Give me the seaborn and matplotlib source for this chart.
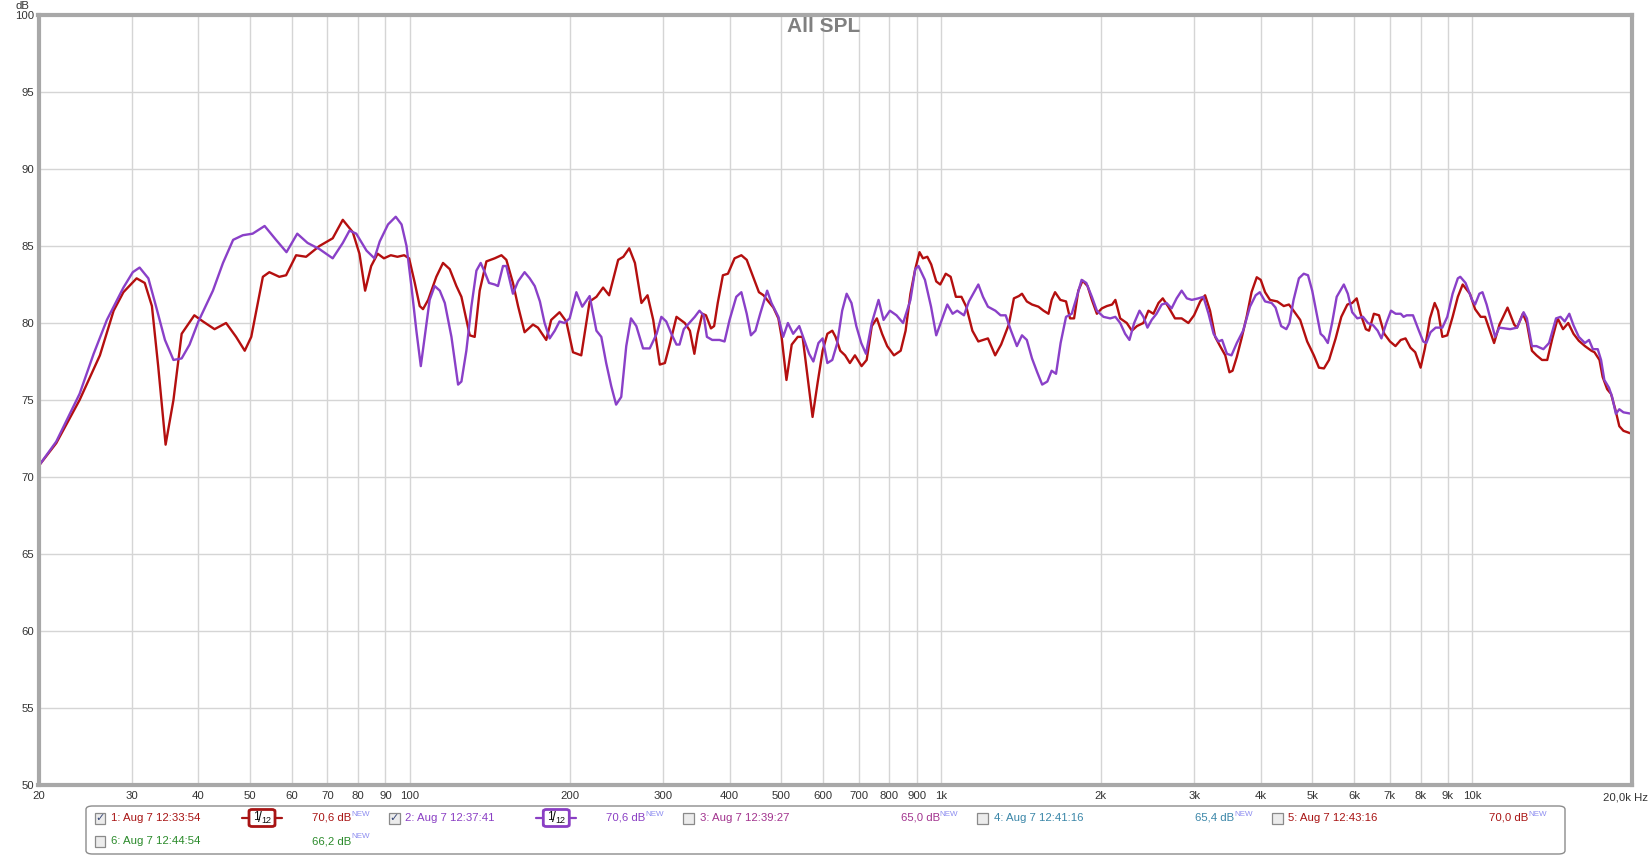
import numpy as np
import pandas as pd
import matplotlib
matplotlib.use("Agg")
import matplotlib.pyplot as plt
import seaborn as sns
from matplotlib.patches import FancyBboxPatch, Rectangle
from matplotlib.lines import Line2D
from matplotlib import font_manager

# ---------------- data ----------------
freq_1 = [20, 21.6, 23.9, 26.1, 27.7, 28.9, 30.6, 31.7, 32.7, 33.6, 34.7, 35.9, 37.2, 39.3, 40.8,
          42.9, 45.1, 47.1, 48.9, 50.3, 52.9, 54.4, 56.8, 58.5, 61.1, 63.8, 67.6, 71.6, 74.8, 78.1,
          80.4, 82.4, 84.6, 87.0, 89.4, 92.1, 94.8, 97.6, 99.7, 102.2, 104.4, 105.9, 108.3, 112.2,
          115.5, 118.9, 122.4, 125.1, 129.7, 132.5, 135.4, 139.4, 144.5, 148.8, 152.0, 156.4, 159.9,
          164.5, 170.6, 174.3, 180.7, 184.6, 191.4, 197.1, 202.9, 210.3, 218.1, 224.6, 231.2, 237.3,
          246.8, 252.4, 258.9, 265.4, 273.0, 280.3, 287.3, 295.6, 302.2, 308.6, 317.8, 329.4, 336.8,
          343.4, 348.3, 355.5, 361.1, 369.0, 374.1, 380.0, 388.6, 397.2, 408.8, 421.0, 430.9, 440.8,
          454.3, 463.5, 473.3, 483.7, 494.3, 501.2, 511.9, 523.7, 537.6, 549.0, 561.0, 573.2, 585.8,
          598.8, 611.2, 624.4, 633.2, 646.3, 660.0, 673.9, 688.8, 708.9, 724.7, 741.0, 757.5, 774.8,
          792.2, 815.7, 839.9, 858.0, 876.2, 894.6, 911.3, 925.0, 942.8, 958.8, 979.8, 996.9, 1021,
          1043, 1067, 1093, 1116, 1146, 1176, 1200, 1226, 1265, 1298, 1318, 1342, 1372, 1402, 1421,
          1451, 1484, 1526, 1560, 1594, 1616, 1640, 1678, 1720, 1750, 1781, 1814, 1848, 1888, 1924,
          1966, 2009, 2053, 2100, 2130, 2175, 2238, 2288, 2339, 2405, 2458, 2512, 2568, 2616, 2679,
          2758, 2839, 2923, 2996, 3077, 3143, 3211, 3283, 3354, 3430, 3493, 3540, 3606, 3681, 3763,
          3844, 3932, 4000, 4076, 4164, 4297, 4420, 4520, 4612, 4746, 4892, 5036, 5148, 5261, 5379,
          5535, 5672, 5823, 5946, 6063, 6166, 6309, 6398, 6532, 6679, 6833, 7005, 7173, 7340, 7493,
          7654, 7815, 8000, 8150, 8330, 8502, 8627, 8790, 8980, 9190, 9400, 9600, 9906, 10130, 10380,
          10580, 10800, 11000, 11260, 11660, 12000, 12150, 12460, 12680, 12960, 13220, 13540, 13850,
          14160, 14490, 14830, 15170, 15520, 15880, 16310, 16770, 17000, 17370, 17610, 17960, 18260,
          18600, 18930, 19270, 20000]
spl_1 = [70.7, 72.2, 75.0, 77.9, 80.8, 82.0, 82.9, 82.6, 81.1, 77.2, 72.1, 75.0, 79.3, 80.5, 80.1,
         79.6, 80.0, 79.1, 78.2, 79.1, 83.0, 83.3, 83.0, 83.1, 84.4, 84.3, 85.0, 85.5, 86.7, 85.9,
         84.5, 82.1, 83.7, 84.5, 84.2, 84.4, 84.3, 84.4, 84.2, 82.6, 81.1, 80.9, 81.5, 83.0,
         83.9, 83.5, 82.4, 81.7, 79.2, 79.1, 82.1, 84.0, 84.2, 84.4, 84.1, 82.6, 81.1,
         79.4, 79.9, 79.7, 78.9, 80.2, 80.7, 80.1, 78.1, 77.9, 81.4, 81.7, 82.3, 81.8,
         84.1, 84.3, 84.85, 83.9, 81.3, 81.8, 80.2, 77.3, 77.4, 78.6, 80.4, 80.0, 79.5,
         78.0, 79.3, 80.6, 80.5, 79.65, 79.8, 81.3, 83.1, 83.2, 84.2, 84.4, 84.1, 83.2,
         82.0, 81.8, 81.4, 81.0, 80.3, 79.1, 76.3, 78.6, 79.1, 79.1, 76.5, 73.9, 76.1,
         78.2, 79.3, 79.5, 79.1, 78.2, 77.9, 77.4, 77.9, 77.2, 77.6, 79.8, 80.3, 79.3,
         78.5, 77.9, 78.2, 79.5, 81.9, 83.5, 84.6, 84.2, 84.3, 83.8, 82.7, 82.5, 83.2,
         83.0, 81.7, 81.7, 81.06, 79.5, 78.8, 78.9, 79.0, 77.9, 78.6, 79.2, 79.9, 81.6, 81.75, 81.9,
         81.4, 81.2, 81.06, 80.8, 80.6, 81.5, 82.0, 81.5, 81.4, 80.3, 80.3, 82.1, 82.75, 82.4, 81.5,
         80.6, 80.95, 81.1, 81.2, 81.5, 80.3, 80.0, 79.5, 79.8, 80.0, 80.8, 80.6, 81.3, 81.6, 81.06,
         80.3, 80.3, 80.0, 80.5, 81.4, 81.8, 80.8, 79.1, 78.5, 77.9, 76.8, 76.9, 77.8, 79.0, 80.4,
         82.0, 82.97, 82.8, 82.0, 81.5, 81.4, 81.1, 81.2, 80.8, 80.2, 78.8, 77.9, 77.1, 77.05, 77.6,
         79.0, 80.4, 81.2, 81.3, 81.6, 80.6, 79.6, 79.5, 80.6, 80.5, 79.3, 78.8, 78.5, 78.9, 79.0,
         78.4, 78.1, 77.1, 78.35, 80.3, 81.3, 80.8, 79.1, 79.2, 80.4, 81.7, 82.5, 81.9, 80.9, 80.4,
         80.4, 79.5, 78.7, 79.9, 81.0, 79.9, 79.7, 80.6, 80.0, 78.2, 77.9, 77.6, 77.6,
         79.0, 80.3, 79.6, 80.0, 79.3, 78.85, 78.5, 78.2, 78.1, 77.6, 76.5, 75.7, 75.4,
         74.4, 73.3, 73.0, 72.8]

freq_2 = [20, 21.6, 23.9, 25.4, 26.9, 28.9, 30.1, 31.0, 32.2, 33.3, 34.6, 35.9, 37.2, 38.5, 40.0,
          42.6, 44.5, 46.5, 48.5, 50.6, 53.3, 56.0, 58.6, 61.4, 64.2, 67.6, 71.6, 74.8, 77.0, 79.3,
          82.9, 85.8, 87.8, 91.0, 94.1, 96.5, 98.6, 100.7, 102.9, 104.9, 106.7, 109.0, 111.4, 113.9,
          116.4, 119.8, 123.3, 125.1, 127.8, 130.6, 133.5, 136.0, 138.4, 141.0, 144.5, 146.6, 149.8,
          152.0, 156.4, 159.9, 164.5, 168.2, 171.9, 175.8, 179.4, 183.4, 187.5, 191.4, 195.5, 200,
          205.9, 211.2, 218.1, 224.6, 229.4, 234.3, 239.5, 244.6, 250.1, 255.6, 260.9, 267.0, 274.9,
          283.0, 291.6, 297.6, 304.0, 310.8, 317.8, 322, 328, 336, 344, 351, 357.5, 362.6, 371.0,
          382.9, 391.4, 400, 411.8, 421.0, 430.9, 438.8, 447.5, 456.8, 470.8, 479.7, 494.3, 504.6,
          515.1, 527.0, 541.1, 552.8, 564.7, 575.2, 588.0, 598.8, 611.2, 624.4, 638.0, 651.7, 664.5,
          678.5, 692.9, 707.9, 722.6, 741.0, 763.0, 779.8, 801.6, 824.8, 848.7, 876.2, 894.6, 907.0,
          933.0, 958, 979.8, 1011, 1028, 1052, 1073, 1105, 1129, 1176, 1200, 1226, 1266, 1295, 1324,
          1355, 1390, 1421, 1451, 1484, 1518, 1551, 1586, 1616, 1647, 1680, 1720, 1763, 1802, 1840,
          1878, 1924, 1966, 2023, 2083, 2130, 2175, 2222, 2264, 2311, 2365, 2405, 2448, 2493, 2546,
          2604, 2659, 2718, 2778, 2839, 2904, 2967, 3052, 3120, 3190, 3261, 3330, 3383, 3455, 3524,
          3606, 3706, 3818, 3913, 3984, 4076, 4194, 4265, 4370, 4470, 4530, 4612, 4720, 4820, 4910,
          5000, 5110, 5185, 5260, 5350, 5450, 5560, 5735, 5835, 5946, 6080, 6232, 6366, 6513, 6640,
          6750, 6896, 7036, 7180, 7340, 7430, 7530, 7740, 7940, 8090, 8200, 8350, 8540, 8790, 8980,
          9190, 9400, 9500, 9720, 10000, 10130, 10320, 10460, 10650, 10840, 11050, 11250, 11800,
          12150, 12500, 12680, 12960, 13220, 13620, 13960, 14390, 14670, 14940, 15240, 15520, 15880,
          16310, 16600, 16880, 17240, 17490, 17740, 18100, 18350, 18650, 18930, 19270, 20000]
spl_2 = [70.7, 72.3, 75.4, 78.0, 80.2, 82.3, 83.3, 83.6, 82.9, 81.06, 78.9, 77.6, 77.7, 78.6, 80.1,
         82.1, 83.9, 85.4, 85.7, 85.8, 86.3, 85.4, 84.6, 85.8, 85.2, 84.8, 84.2, 85.2, 86.0, 85.8,
         84.7, 84.2, 85.3, 86.4, 86.9, 86.4, 85.0, 82.4, 79.5, 77.2, 79.1, 81.5, 82.4, 82.1,
         81.3, 79.1, 76.0, 76.2, 78.2, 81.06, 83.4, 83.9, 83.3, 82.6, 82.5, 82.4, 83.7,
         83.7, 81.9, 82.7, 83.3, 82.9, 82.4, 81.4, 80.0, 79.0, 79.5, 80.1, 80.0, 80.3,
         82.0, 81.06, 81.75, 79.5, 79.1, 77.4, 75.9, 74.7, 75.2, 78.5, 80.3, 79.8, 78.35,
         78.35, 79.3, 80.4, 80.1, 79.3, 78.6, 78.6, 79.6, 80.0, 80.4, 80.8, 80.5, 79.1, 78.9,
         78.9, 78.8, 80.2, 81.7, 82.0, 80.6, 79.2, 79.5, 80.6, 82.1, 81.3, 80.4, 79.1,
         80.0, 79.3, 79.8, 78.9, 78.0, 77.5, 78.7, 79.0, 77.4, 77.6, 78.7, 80.8, 81.9,
         81.3, 79.8, 78.7, 78.0, 80.0, 81.5, 80.2, 80.8, 80.5, 80.0, 81.5, 83.5, 83.7,
         82.8, 81.06, 79.2, 80.5, 81.2, 80.6, 80.8, 80.5, 81.4, 82.5, 81.7, 81.06, 80.8, 80.5, 80.5,
         79.5, 78.5, 79.2, 78.9, 77.7, 76.8, 76.0, 76.2, 76.9, 76.7, 78.7, 80.4, 80.6, 81.7, 82.8,
         82.6, 81.7, 80.8, 80.4, 80.3, 80.4, 80.0, 79.3, 78.9, 80.0, 80.8, 80.4, 79.7, 80.2, 80.6,
         81.2, 81.3, 80.95, 81.6, 82.1, 81.6, 81.5, 81.6, 81.7, 80.6, 79.3, 78.8, 78.9, 78.0, 77.9,
         78.7, 79.5, 81.06, 81.8, 82.0, 81.4, 81.3, 81.0, 79.8, 79.6, 80.0, 81.5, 82.9, 83.2, 83.1,
         82.1, 80.4, 79.3, 79.1, 78.7, 80.0, 81.7, 82.5, 81.9, 80.7, 80.3, 80.4, 80.0, 79.85, 79.5,
         79.0, 80.0, 80.8, 80.6, 80.6, 80.4, 80.5, 80.5, 79.5, 78.8, 78.7, 79.4, 79.7, 79.7, 80.4,
         81.9, 82.9, 83.0, 82.6, 81.5, 81.2, 81.9, 82.0, 81.2, 80.2, 79.1, 79.7, 79.6,
         79.7, 80.7, 80.3, 78.5, 78.5, 78.3, 78.7, 80.3, 80.4, 80.1, 80.6, 79.85, 79.1,
         78.7, 78.9, 78.3, 78.3, 77.6, 76.3, 75.8, 75.2, 74.1, 74.4, 74.2, 74.1]

trace_names = ["1: Aug 7 12:33:54", "2: Aug 7 12:37:41"]

y_ticks = [50, 55, 60, 65, 70, 75, 80, 85, 90, 95, 100]
x_ticks = [20, 30, 40, 50, 60, 70, 80, 90, 100, 200, 300, 400, 500, 600, 700, 800, 900,
           1000, 2000, 3000, 4000, 5000, 6000, 7000, 8000, 9000, 10000]
x_tick_labels = ["20", "30", "40", "50", "60", "70", "80", "90", "100", "200", "300", "400",
                 "500", "600", "700", "800", "900", "1k", "2k", "3k", "4k", "5k", "6k", "7k",
                 "8k", "9k", "10k"]
x_end_label = "20,0k Hz"

legend_names = ["1: Aug 7 12:33:54", "2: Aug 7 12:37:41", "3: Aug 7 12:39:27",
                "4: Aug 7 12:41:16", "5: Aug 7 12:43:16", "6: Aug 7 12:44:54"]
legend_levels = ["70,6 dB", "70,6 dB", "65,0 dB", "65,4 dB", "70,0 dB", "66,2 dB"]
legend_checked = [True, True, False, False, False, False]
legend_colors = ["#a81414", "#8a3fc4", "#a2338e", "#3a86a8", "#a81414", "#2a8a2a"]
curve_colors = ["#b40f0f", "#8a40c8"]

# ---------------- style ----------------
sns.set_theme(style="white")
names = {f.name for f in font_manager.fontManager.ttflist}
small_font = "Liberation Sans Narrow" if "Liberation Sans Narrow" in names else "Liberation Sans"
narrow = small_font == "Liberation Sans Narrow"
plt.rcParams["font.family"] = [small_font, "DejaVu Sans"]
txt_size = 9.0 if narrow else 8.2

W, H = 1650, 856
fig = plt.figure(figsize=(W / 100, H / 100), dpi=100)
fig.patch.set_facecolor("white")

def fx(px):
    return px / W

def fy(py):
    return 1 - py / H

left, right, top, bottom = 38.5, 1632, 15, 785
ax = fig.add_axes([fx(left), fy(bottom), fx(right - left), (bottom - top) / H])

df = pd.concat([
    pd.DataFrame({"freq": freq_1, "spl": spl_1, "trace": trace_names[0]}),
    pd.DataFrame({"freq": freq_2, "spl": spl_2, "trace": trace_names[1]}),
], ignore_index=True)

sns.lineplot(data=df, x="freq", y="spl", hue="trace", hue_order=trace_names,
             palette=dict(zip(trace_names, curve_colors)), estimator=None, sort=False,
             linewidth=1.7, legend=False, ax=ax)
for ln in ax.get_lines():
    ln.set_solid_joinstyle("round")
    ln.set_solid_capstyle("round")

ax.set_xscale("log")
ax.set_xlim(20, 20000)
ax.set_ylim(50, 100)
ax.set_xticks(x_ticks)
ax.set_xticklabels(x_tick_labels)
ax.xaxis.set_minor_locator(matplotlib.ticker.NullLocator())
ax.set_yticks(y_ticks)
ax.set_yticklabels([str(v) for v in y_ticks])
ax.set_xlabel("")
ax.set_ylabel("")
ax.set_axisbelow(True)
ax.grid(True, which="major", color="#d5d5d5", linewidth=1.0)
ax.tick_params(axis="both", length=0, labelsize=txt_size, labelcolor="#333333")
ax.tick_params(axis="x", pad=4)
ax.tick_params(axis="y", pad=3)
for s in ax.spines.values():
    s.set_visible(True)
    s.set_color("#a8a8a8")
    s.set_linewidth(3)
ax.set_facecolor("white")

# texts around the plot
fig.text(fx(22), fy(1), "dB", ha="center", va="top", fontsize=txt_size, color="#333333")
fig.text(fx(1648), fy(797), x_end_label, ha="right", va="center", fontsize=txt_size, color="#333333")
fig.text(fx(824), fy(26), "All SPL", ha="center", va="center", fontsize=15,
         fontweight="bold", color="#808080", family=["Liberation Sans", "DejaVu Sans"])

# ---------------- legend panel ----------------
box = FancyBboxPatch((fx(86), fy(854)), fx(1565 - 86), (854 - 806) / H,
                     boxstyle="round,pad=0,rounding_size=0.004",
                     transform=fig.transFigure, facecolor="white", edgecolor="#8c8c8c",
                     linewidth=1.0, zorder=1)
fig.add_artist(box)

renderer = fig.canvas.get_renderer()
col_x = [100, 394.3, 688.6, 982.9, 1277.2, 100]
row_y = [818, 818, 818, 818, 818, 841]
for i, name in enumerate(legend_names):
    cx, cy = col_x[i], row_y[i]
    col = legend_colors[i]
    # checkbox
    cb = Rectangle((fx(cx - 5.5), fy(cy + 5.5)), 11 / W, 11 / H, transform=fig.transFigure,
                   facecolor="#ececec", edgecolor="#8a8a8a", linewidth=0.9, zorder=2)
    fig.add_artist(cb)
    if legend_checked[i]:
        fig.text(fx(cx), fy(cy), "\u2713", ha="center", va="center", fontsize=8,
                 color="#3a4a78", family=["DejaVu Sans"], zorder=3)
    fig.text(fx(cx + 11), fy(cy), name, ha="left", va="center", fontsize=txt_size, color=col)
    # smoothing icon for the displayed traces
    if legend_checked[i]:
        icx = cx + 162
        fig.add_artist(Line2D([fx(icx - 20), fx(icx + 20)], [fy(cy), fy(cy)],
                              transform=fig.transFigure, color=col, linewidth=1.6, zorder=2))
        ib = FancyBboxPatch((fx(icx - 13), fy(cy + 8.5)), 26 / W, 17 / H,
                            boxstyle="round,pad=0,rounding_size=0.002",
                            transform=fig.transFigure, facecolor="white", edgecolor=col,
                            linewidth=2.0, zorder=3)
        fig.add_artist(ib)
        fig.text(fx(icx - 5.5), fy(cy - 1.5), "1", ha="center", va="center",
                 fontsize=8.5, color="#111111", zorder=4, family=["Liberation Sans"])
        fig.text(fx(icx - 2), fy(cy), "/", ha="center", va="center",
                 fontsize=10, color="#111111", zorder=4, family=["Liberation Sans"])
        fig.text(fx(icx + 4.5), fy(cy + 2.5), "12", ha="center", va="center",
                 fontsize=6.5, color="#111111", zorder=4, family=["Liberation Sans"])
    # level + NEW superscript
    t = fig.text(fx(cx + 212), fy(cy), legend_levels[i], ha="left", va="center",
                 fontsize=txt_size, color=col)
    bb = t.get_window_extent(renderer)
    fig.text(bb.x1 / W, fy(cy - 4), "NEW", ha="left", va="center",
             fontsize=5.8, color="#8c8cf0")

fig.savefig("out.png", dpi=100, facecolor="white")
